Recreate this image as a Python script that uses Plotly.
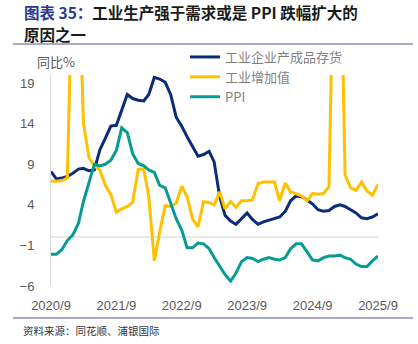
import pandas as pd
import plotly.graph_objects as go

# ---- data (monthly, 2020/9 - 2025/9) ----
months = pd.date_range("2020-09-01", periods=61, freq="MS")

inventory = [8.1, 7.2, 7.3, 7.5, 7.9, 8.4, 8.5, 8.2, 8.3, 10.8,
             12.2, 13.7, 13.8, 15.6, 17.6, 17.1, 16.9, 16.8, 17.6, 19.7,
             19.5, 19.1, 17.6, 14.8, 13.7, 12.4, 11.2, 10.0, 10.2, 10.6,
             9.3, 5.0, 2.7, 2.0, 1.6, 2.3, 3.0, 2.2, 1.6, 1.9,
             2.1, 2.3, 2.5, 3.2, 4.5, 5.1, 5.0, 4.6, 4.1, 3.4,
             3.2, 3.3, 3.8, 4.0, 3.8, 3.4, 3.0, 2.4, 2.3, 2.5, 2.9]

value_added = [6.9, 6.9, 7.0, 7.3, 35.1, 35.1, 14.1, 9.8, 8.8, 8.3,
               6.4, 5.3, 3.1, 3.5, 3.8, 4.3, 8.4, 8.4, 5.0, -2.9,
               0.7, 3.9, 3.8, 4.2, 6.3, 5.0, 2.2, 1.3, 4.4, 4.3,
               4.0, 5.6, 3.5, 4.4, 3.7, 4.5, 4.5, 4.6, 6.6, 6.8,
               6.8, 6.8, 4.5, 6.7, 5.6, 5.3, 5.1, 4.5, 5.4, 5.3,
               5.4, 6.2, 40.0, 40.0, 7.7, 6.1, 5.8, 6.8, 5.7, 5.2, 6.5]

ppi = [-2.1, -2.1, -1.5, -0.4, 0.3, 1.7, 4.4, 6.8, 9.0, 8.8,
       9.0, 9.5, 10.7, 13.5, 12.9, 10.3, 9.1, 8.8, 8.3, 8.0,
       6.4, 6.1, 4.2, 2.3, 0.9, -1.3, -1.3, -0.7, -0.8, -1.4,
       -2.5, -3.6, -4.6, -5.4, -4.4, -3.0, -2.5, -2.6, -3.0, -2.7,
       -2.5, -2.7, -2.8, -2.5, -1.4, -0.8, -0.8, -1.8, -2.8, -2.9,
       -2.5, -2.3, -2.3, -2.2, -2.5, -2.7, -3.3, -3.6, -3.6, -2.9, -2.3]

series_names = ["工业企业产成品存货", "工业增加值", "PPI"]
x_tick_dates = ["2020-09-01", "2021-09-01", "2022-09-01", "2023-09-01", "2024-09-01", "2025-09-01"]
x_tick_labels = ["2020/9", "2021/9", "2022/9", "2023/9", "2024/9", "2025/9"]
y_ticks = [-6, -1, 4, 9, 14, 19]

colors = ["#0B2C7A", "#FFC000", "#079B96"]

# ---- layout geometry (pixels) ----
W, H = 418, 344
L, R, T, B = 51, 40, 75, 58
pw, ph = W - L - R, H - T - B


def px(xp):
    return (xp - L) / pw


def py(yp):
    return (H - B - yp) / ph


fig = go.Figure()
for name, vals, c in zip(series_names, [inventory, value_added, ppi], colors):
    fig.add_trace(go.Scatter(x=months, y=vals, mode="lines", name=name,
                             line=dict(color=c, width=3)))

cjk = "Noto Sans CJK SC"
fig.update_layout(
    width=W, height=H,
    margin=dict(l=L, r=R, t=T, b=B),
    paper_bgcolor="white", plot_bgcolor="white",
    showlegend=True,
    legend=dict(x=px(185), y=py(42), xanchor="left", yanchor="top",
                font=dict(family=cjk, size=13, color="#7F7F7F"),
                bgcolor="rgba(0,0,0,0)", tracegroupgap=0),
    xaxis=dict(range=[months[0], months[-1]], tickvals=x_tick_dates, ticktext=x_tick_labels,
               showgrid=False, zeroline=False, showline=False, ticks="",
               ticklabelstandoff=10,
               tickfont=dict(family="Liberation Sans", size=13, color="#595959")),
    yaxis=dict(range=[-6, 20], tickvals=y_ticks, showgrid=False,
               zeroline=True, zerolinecolor="#E8E8E8", zerolinewidth=2,
               showline=True, linecolor="#D9D9D9", linewidth=1, ticks="",
               ticklabelstandoff=13,
               tickfont=dict(family="Liberation Sans", size=13, color="#595959")),
    font=dict(family=cjk),
)

annotations = [
    dict(text='<b><span style="color:#2B3A8C">图表 35：</span>工业生产强于需求或是 PPI 跌幅扩大的</b>',
         x=px(22), y=py(11.5), xanchor="left", yanchor="middle",
         font=dict(family=cjk, size=15.5, color="#1A1A1A")),
    dict(text="<b>原因之一</b>", x=px(22), y=py(34.5), xanchor="left", yanchor="middle",
         font=dict(family=cjk, size=15.5, color="#1A1A1A")),
    dict(text="同比%", x=px(35), y=py(62), xanchor="left", yanchor="middle",
         font=dict(family=cjk, size=13, color="#595959")),
    dict(text="资料来源：同花顺、浦银国际", x=px(21), y=py(330), xanchor="left", yanchor="middle",
         font=dict(family=cjk, size=10.5, color="#333333")),
]
for a in annotations:
    a.update(xref="paper", yref="paper", showarrow=False)
fig.update_layout(annotations=annotations)

fig.update_layout(shapes=[
    dict(type="line", xref="paper", yref="paper", x0=px(13), x1=px(413), y0=py(44), y1=py(44),
         line=dict(color="#8C8CBF", width=1.5)),
    dict(type="line", xref="paper", yref="paper", x0=px(13), x1=px(413), y0=py(318), y1=py(318),
         line=dict(color="#8C8CBF", width=1.5)),
])

fig.write_html("out.html")
